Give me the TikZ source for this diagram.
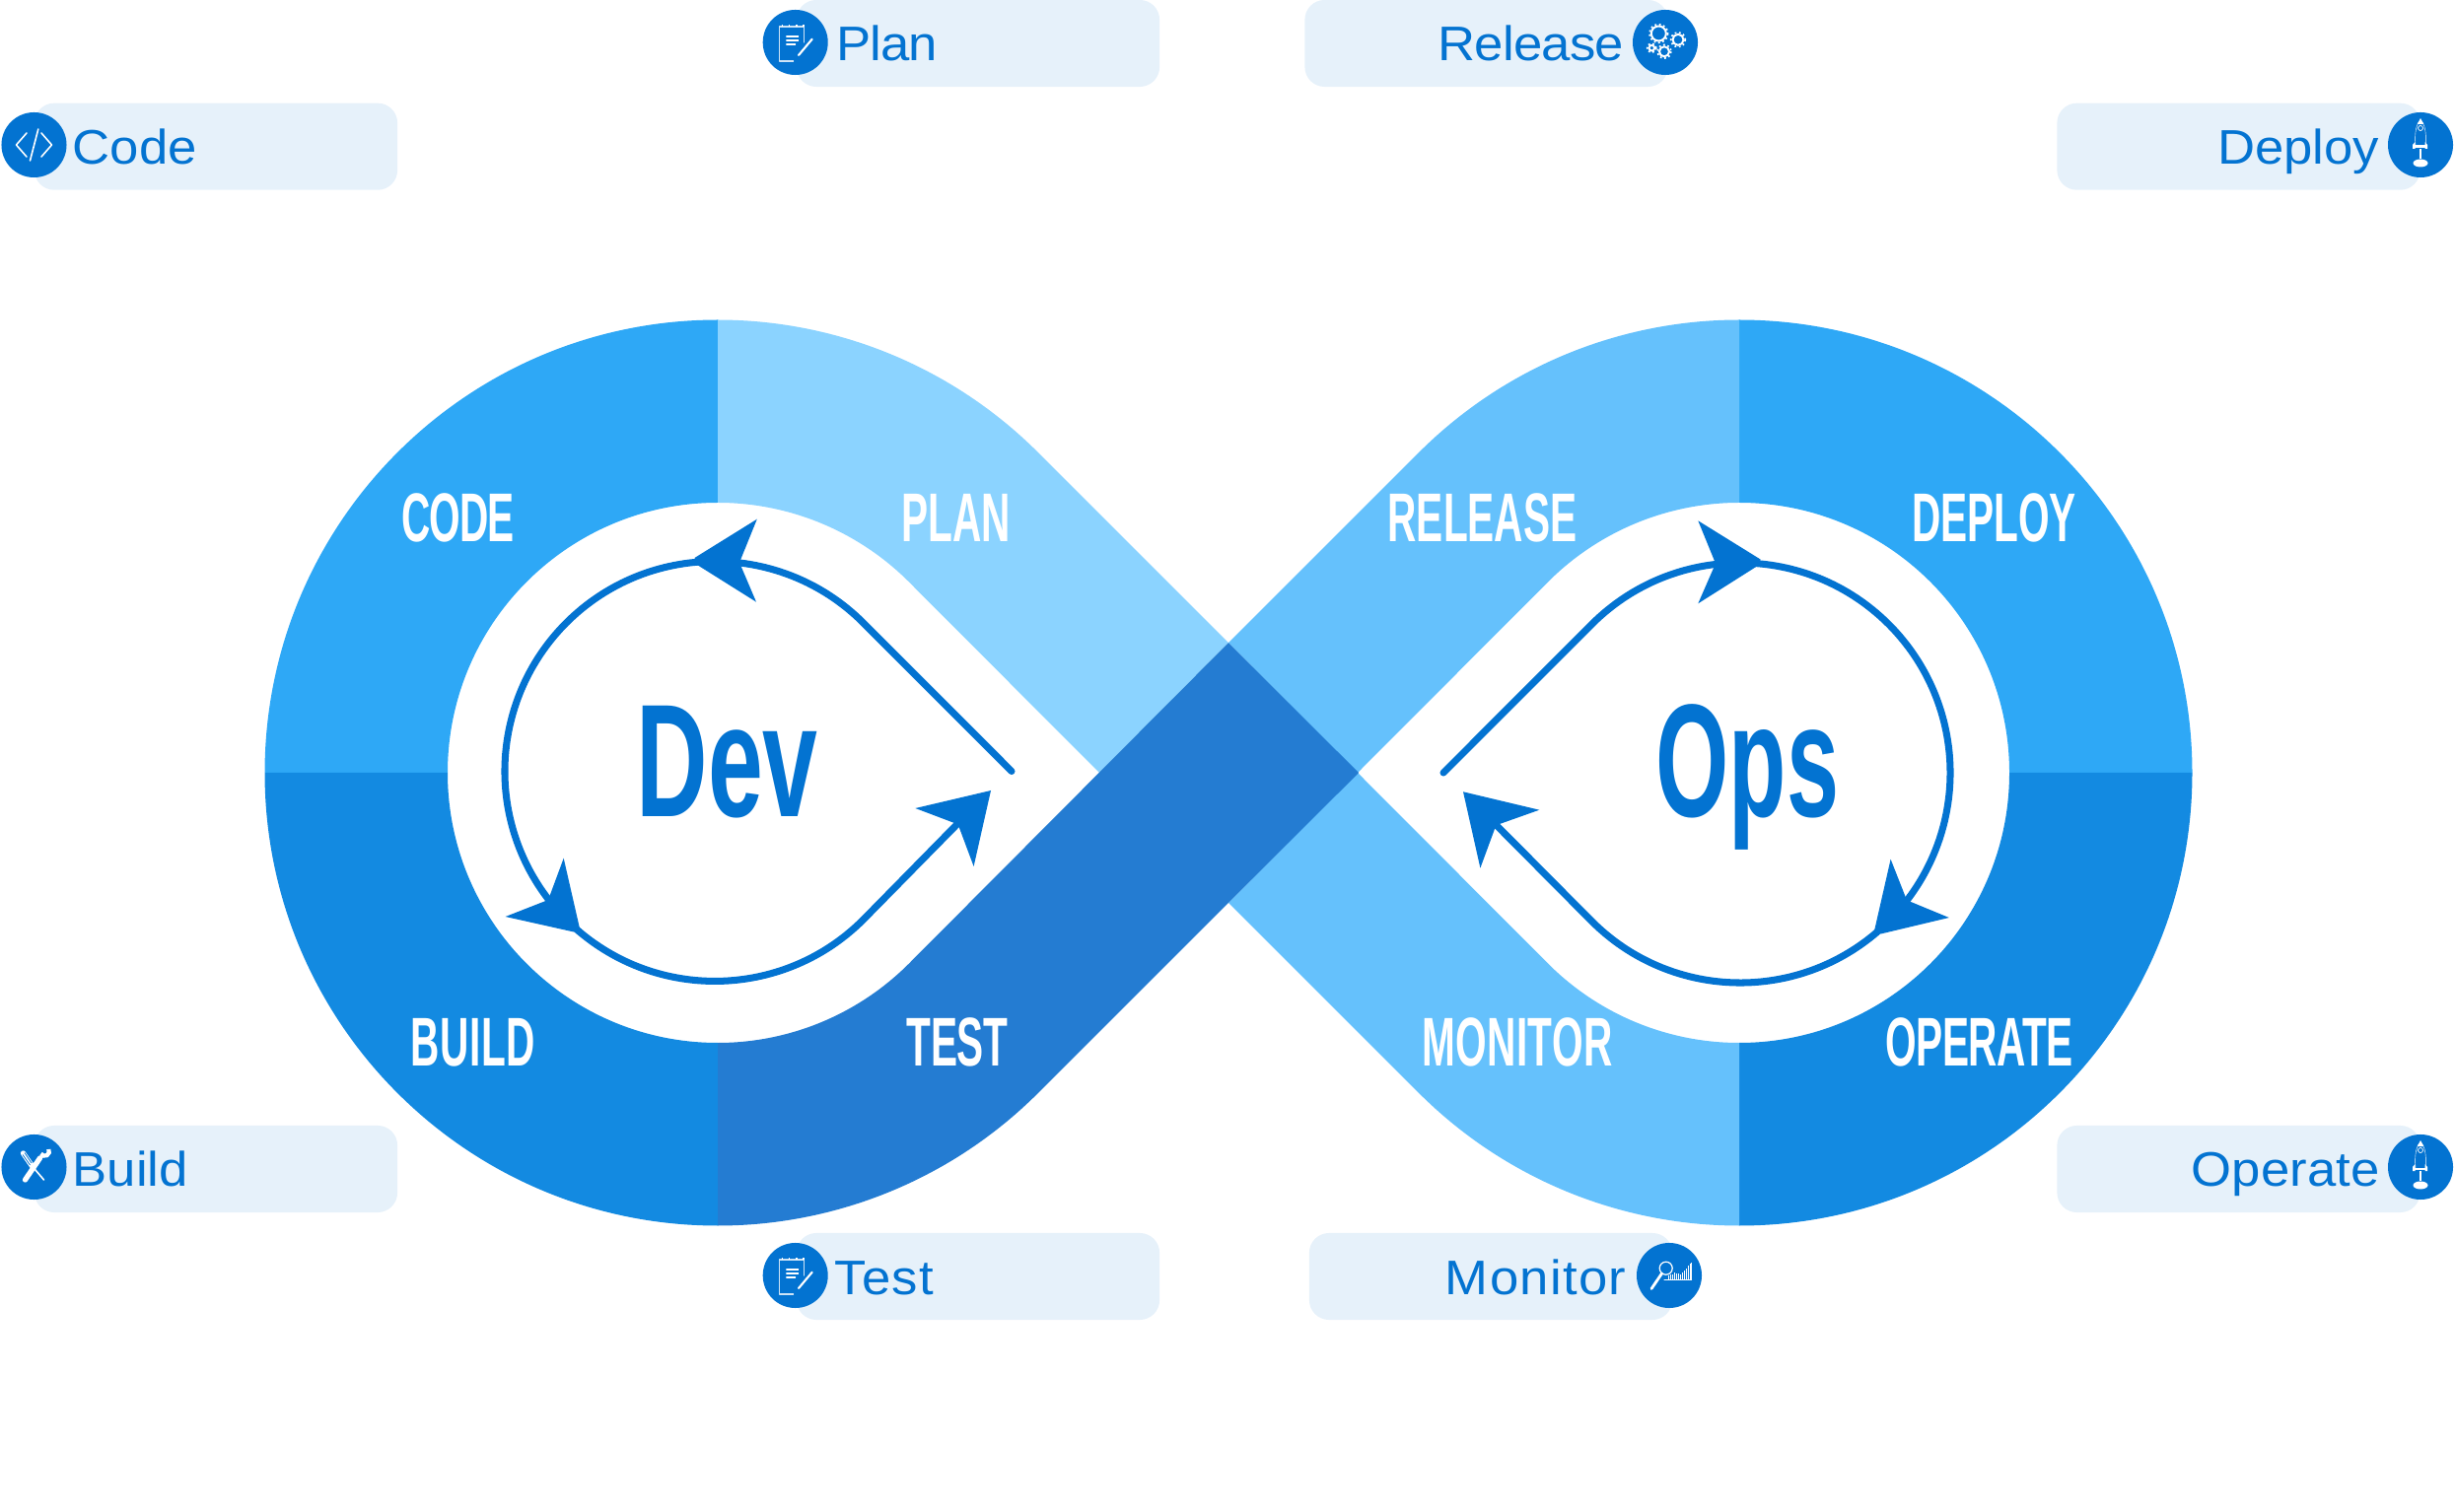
\documentclass[tikz,border=0pt]{standalone}
\usepackage{fontspec}
\setmainfont{Liberation Sans}
\newfontfamily\labelfont[FakeStretch=1.07]{Liberation Sans}
\newfontfamily\dinfont[FakeStretch=0.58]{Liberation Sans Bold}
\newfontfamily\devfont[FakeStretch=0.615]{Liberation Sans Bold}
\newfontfamily\opsfont[FakeStretch=0.585]{Liberation Sans Bold}
\newcommand{\lsp}[1]{\addfontfeature{LetterSpace=#1}}
\definecolor{cCode}{HTML}{2EA8F6}
\definecolor{cPlan}{HTML}{8BD3FF}
\definecolor{cRelease}{HTML}{65C1FC}
\definecolor{cBuild}{HTML}{138AE1}
\definecolor{cTest}{HTML}{247CD2}
\definecolor{cInk}{HTML}{0373D1}
\definecolor{cPill}{HTML}{E6F1FA}
\tikzset{
  pill/.style={fill=cPill,rounded corners=0.2cm,inner sep=0,minimum width=3.68cm,minimum height=0.88cm},
  badge/.style={circle,fill=cInk,inner sep=0,minimum size=0.66cm},
  pilltext/.style={text=cInk,inner sep=0,font=\labelfont\fontsize{14}{14}\selectfont},
  bandtext/.style={text=white,inner sep=0,anchor=base,font=\dinfont\fontsize{19.9}{20}\selectfont},
  bigtext/.style={text=cInk,inner sep=0,font=\fontsize{46.4}{46}\selectfont},
  loopline/.style={draw=cInk,line width=2pt,line cap=round,line join=round},
  ico/.style={draw=white,line width=0.45pt,line cap=round,line join=round},
  codeicon/.pic={
    \draw[ico] (-7.5,-12) -- (-18,0) -- (-7.5,12);
    \draw[ico] (7.5,-12) -- (18,0) -- (7.5,12);
    \draw[ico] (4.3,-16) -- (-4,16);
  },
  noteicon/.pic={
    \draw[ico,line width=0.3pt,draw=white!80!cInk] (9,0) -- (9,-16) -- (-16,-16) -- (-16,19) -- (-2,19);
    \draw[white,line width=0.7pt,dash pattern=on 0.45pt off 1.6pt] (-14,-17) -- (9,-17);
    \draw[ico,line width=0.3pt] (-9,-6) -- (3,-6) (-9,-2) -- (3,-2) (-9,2) -- (0,2);
    \draw[ico,line width=0.6pt] (3.3,13) -- (17,-3.3);
  },
  gearicon/.pic={
    \foreach \gx/\gy/\gr in {-6.7/-9/7.5,13/-2.7/5.5,-1/9.3/5,-13.7/5.7/2.8}{
      \draw[white,line width=0.55pt] (\gx,\gy) circle[radius=\gr];
      \draw[white,line width=0.5pt,dash pattern=on 0.5pt off 0.75pt] (\gx,\gy) circle[radius=\gr+1.8];
    }
  },
  rocketicon/.pic={
    \fill[white] (-3.3,-21) -- (0,-27) -- (3.3,-21) -- cycle;
    \draw[ico,line width=0.12pt] (-5,2) .. controls (-6,-10) and (-5,-18) .. (-2,-23);
    \draw[ico,line width=0.12pt] (5,2) .. controls (6,-10) and (5,-18) .. (2,-23);
    \draw[ico,line width=0.2pt] (0,-17) circle[radius=2.5];
    \fill[white] (-8,0.5) rectangle (7,3);
    \fill[white] (-8,0) -- (-8,4) -- (-5.5,4) -- (-5.5,-3) -- cycle;
    \fill[white] (7,0) -- (7,4) -- (4.5,4) -- (4.5,-3) -- cycle;
    \fill[white] (-0.7,4) rectangle (0.7,14);
    \fill[white] (0,18.5) ellipse[x radius=7.5,y radius=4];
  },
  toolicon/.pic={
    \draw[ico,line width=1.5pt,line cap=round] (-11,-14) -- (-2,-1);
    \draw[ico,line width=0.45pt] (-2,-1) -- (10,13);
    \draw[ico,line width=1.5pt,line cap=round] (-9,13) -- (6,-9);
    \draw[white,line width=1.2pt] (7,-13.5) arc[start angle=150,end angle=-30,radius=4.5];
    \draw[draw=cInk,line width=0.2pt] (-11.5,-12.5) -- (-4,-2) (-9.5,-14.5) -- (-2.5,-4);
  },
  searchicon/.pic={
    \foreach \bx/\bt in {-1/0,1/-1,3/-1,5/-3,7/-2.5,9/-2,11/-1,13/-3,15/-5,17/-7,19/-10,21/-12,22.4/-13}{
      \draw[white,line width=0.2pt] (\bx,4.5) -- (\bx,\bt);
    }
    \draw[ico,line width=0.3pt] (-5,4.8) -- (22.5,4.8);
    \draw[ico,line width=0.35pt,fill=cInk] (-3.3,-7.3) circle[radius=6.5];
    \draw[ico,line width=0.8pt] (-7.5,-2) -- (-18,13.5);
  }
}
\begin{document}
\begin{tikzpicture}[x=0.01cm,y=-0.01cm]
\useasboundingbox (0,0) rectangle (2490,1534);
% infinity ribbon (image coordinates, y downwards)
\fill[cCode] (268.5,784) arc[start angle=-180,end angle=-90,radius=459.5] -- (728,510) arc[start angle=-90,end angle=-180,radius=274] -- cycle;
\fill[cBuild] (728,1243.5) arc[start angle=90,end angle=180,radius=459.5] -- (454,784) arc[start angle=180,end angle=90,radius=274] -- cycle;
\fill[cCode] (1764,324.5) arc[start angle=-90,end angle=0,radius=459.5] -- (2038,784) arc[start angle=0,end angle=-90,radius=274] -- cycle;
\fill[cBuild] (2223.5,784) arc[start angle=0,end angle=90,radius=459.5] -- (1764,1058) arc[start angle=90,end angle=0,radius=274] -- cycle;
\fill[cPlan] (728,324.5) arc[start angle=-90,end angle=-45,radius=459.5] -- (1246,652.1) -- (1115,784) -- (921.75,590.25) arc[start angle=-45,end angle=-90,radius=274] -- cycle;
\fill[cRelease] (1764,324.5) arc[start angle=-90,end angle=-135,radius=459.5] -- (1246,652.1) -- (1377,784) -- (1570.25,590.25) arc[start angle=-135,end angle=-90,radius=274] -- cycle;
\fill[cRelease] (1764,1243.5) arc[start angle=90,end angle=135,radius=459.5] -- (1246,915.9) -- (1377,784) -- (1570.25,977.75) arc[start angle=135,end angle=90,radius=274] -- cycle;
\fill[cTest] (728,1243.5) arc[start angle=90,end angle=45,radius=459.5] -- (1378,784) -- (1246,652.1) -- (921.75,977.75) arc[start angle=45,end angle=90,radius=274] -- cycle;
% left loop
\coordinate (devstart) at (1026,782.5);
\coordinate (devup) at (875.6,631.9);
\coordinate (devend) at (970,837);
\draw[loopline] (devstart) -- (devup) arc[start angle=-45,end angle=-229.7,radius=213];
\draw[loopline] (587.2,944.9) arc[start angle=130.3,end angle=45,radius=213] -- (devend);
\fill[cInk] (704.5,566) -- (767.8,526.7) -- (750,570.7) -- (767,610.7) -- (707,573) -- cycle;
\fill[cInk] (582,945.5) -- (512.6,930) -- (556,913) -- (571.7,870.7) -- (588,942) -- cycle;
\fill[cInk] (1005,802) -- (928.4,820) -- (968,835) -- (973,840) -- (987.6,879) -- cycle;
% right loop
\coordinate (opsstart) at (1464,784);
\coordinate (opsup) at (1614.4,633.4);
\coordinate (opsend) at (1518.8,838.3);
\draw[loopline] (opsstart) -- (opsup) arc[start angle=-135,end angle=49.5,radius=213];
\draw[loopline] (1903.4,946) arc[start angle=49.5,end angle=135,radius=213] -- (opsend);
\fill[cInk] (1785.5,567.5) -- (1722.3,528.3) -- (1740,571.7) -- (1722.3,612.3) -- (1782,574.5) -- cycle;
\fill[cInk] (1901,944.5) -- (1917.6,871.7) -- (1934,913.3) -- (1976.8,931) -- (1907.5,947.5) -- cycle;
\fill[cInk] (1484,803.3) -- (1561.3,821.7) -- (1521,836) -- (1516,841) -- (1501.4,880.7) -- cycle;
% centre words
\node[bigtext,anchor=base west] (dev) at (645,829) {\devfont Dev};
\node[bigtext,anchor=base west] (ops) at (1679,829) {\opsfont Ops};
% band words
\node[bandtext] (tcode) at (464.6,550) {\lsp{-1.2}CODE};
\node[bandtext] (tplan) at (969.5,550) {PLAN};
\node[bandtext] (trelease) at (1503.5,550) {RELEASE};
\node[bandtext] (tdeploy) at (2022.5,550) {DEPLOY};
\node[bandtext] (tbuild) at (479.5,1081) {\lsp{0.9}BUILD};
\node[bandtext] (ttest) at (971,1081) {\lsp{-0.6}TEST};
\node[bandtext] (tmonitor) at (1539,1081) {\lsp{0.4}MONITOR};
\node[bandtext] (toperate) at (2007.5,1081) {\lsp{-0.8}OPERATE};
% pills
\node[pill] (codepill) at (219,148.7) {};
\node[pill] (planpill) at (992,44) {};
\node[pill] (releasepill) at (1507.5,44) {};
\node[pill] (deploypill) at (2270.5,148.7) {};
\node[pill] (buildpill) at (219,1186) {};
\node[pill] (testpill) at (992,1295) {};
\node[pill] (monitorpill) at (1512,1295) {};
\node[pill] (operatepill) at (2270.5,1186) {};
% badges and icons
\node[badge] (codebadge) at (34.5,147) {};
\node[badge] (planbadge) at (806.7,43) {};
\node[badge] (releasebadge) at (1689,43) {};
\node[badge] (deploybadge) at (2455,147) {};
\node[badge] (buildbadge) at (34.5,1184) {};
\node[badge] (testbadge) at (806.7,1294) {};
\node[badge] (monitorbadge) at (1693,1294) {};
\node[badge] (operatebadge) at (2455,1184) {};
\pic at (codebadge) {codeicon};
\pic at (planbadge) {noteicon};
\pic at (releasebadge) {gearicon};
\pic at (deploybadge) {rocketicon};
\pic at (buildbadge) {toolicon};
\pic at (testbadge) {noteicon};
\pic at (monitorbadge) {searchicon};
\pic at (operatebadge) {rocketicon};
% pill texts
\node[pilltext,anchor=base west] (lcode) at (73,166.7) {Code};
\node[pilltext,anchor=base west] (lplan) at (848,61.7) {\lsp{-2.2}Plan};
\node[pilltext,anchor=base east] (lrelease) at (1648,61.7) {\lsp{-1.4}Release};
\node[pilltext,anchor=base east] (ldeploy) at (2414,166.7) {Deploy};
\node[pilltext,anchor=base west] (lbuild) at (73,1203) {Build};
\node[pilltext,anchor=base west] (ltest) at (846,1313) {\lsp{2.4}Test};
\node[pilltext,anchor=base east] (lmonitor) at (1650,1313) {\lsp{2.6}Monitor};
\node[pilltext,anchor=base east] (loperate) at (2414,1203) {Operate};
\end{tikzpicture}
\end{document}
